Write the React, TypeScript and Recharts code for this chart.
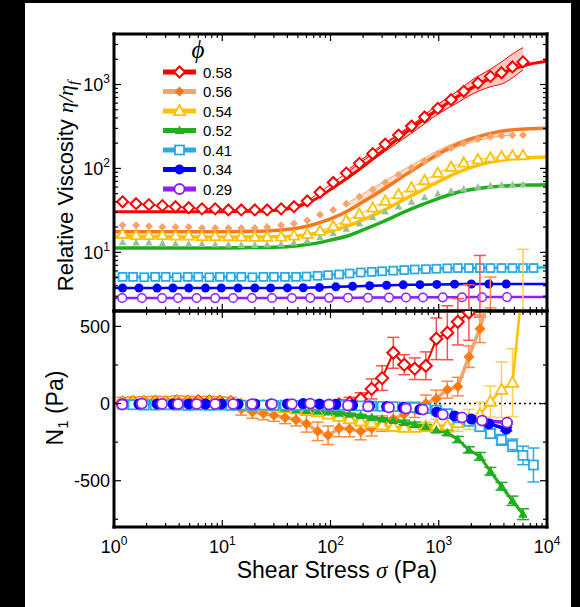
import React from "react";
import { ComposedChart, Line, Area, XAxis, YAxis, ErrorBar, ReferenceLine } from "recharts";

const FONT = "'Liberation Sans', Arial, Helvetica, sans-serif";
const SERIF = "'Liberation Serif', 'DejaVu Serif', serif";

// axis ticks
const xMajor = [1, 10, 100, 1000, 10000];
const xExp = ["0", "1", "2", "3", "4"];
const vMajor = [10, 100, 1000];
const vExp = ["1", "2", "3"];
const nMajor = [-500, 0, 500];
const nLabels = ["-500", "0", "500"];
const nTicks = [-750, -500, -250, 0, 250, 500];

const xTicks = [1, 10, 100, 1000]
  .flatMap((d) => [1, 2, 3, 4, 5, 6, 7, 8, 9].map((k) => k * d))
  .concat([10000]);
const vTicks = [1, 10, 100, 1000]
  .flatMap((d) => [1, 2, 3, 4, 5, 6, 7, 8, 9].map((k) => k * d))
  .filter((v) => v >= 2 && v <= 4000);

// legend
const phiLabels = ["0.58", "0.56", "0.54", "0.52", "0.41", "0.34", "0.29"];

// shear stress grids (Pa)
const stressA = [1.2, 1.6, 2.1, 2.8, 3.7, 4.9, 6.5, 8.6, 11.4, 15, 20, 26, 35, 46, 61, 80, 106, 140, 185, 245, 320, 425, 560, 740, 980, 1300, 1700, 2300, 3000, 3800, 4800, 6000];
const stressB = [1.2, 1.5, 1.9, 2.4, 3.0, 3.8, 4.8, 6.0, 7.6, 9.5, 12, 15, 19, 24, 30, 38, 48, 60, 76, 95, 120, 150, 190, 240, 300, 380, 480, 600, 760, 950, 1200, 1500, 1900, 2400, 3000, 3800, 4800, 6000, 7500];
const stressC = [1.2, 1.7, 2.5, 3.5, 4.9, 7.0, 9.8, 14, 20, 28, 40, 56, 79, 112, 160, 230, 330, 470, 670, 960, 1400, 2000, 2900, 4200];
const stressD = [1.19, 1.81, 2.78, 3.9, 5.8, 8.6, 12.6, 18.8, 28.8, 44, 65, 97, 145, 222, 347, 498, 715, 1090, 1640, 2510, 4270];
const stressFit = [1, 2, 5, 10, 20, 30, 50, 70, 100, 150, 200, 300, 500, 700, 1000, 1500, 2000, 3000, 5000, 7000, 10000];

// relative viscosity, markers
const visc058 = [40, 38, 37, 36, 35, 34, 33, 33, 32, 32, 32, 32, 33, 35, 41, 52, 68, 88, 115, 150, 195, 250, 320, 410, 520, 660, 830, 1040, 1250, 1380, 1620, 1860];
const visc056 = [21, 21, 20.5, 20, 20, 20, 19.5, 19.5, 19.5, 19.5, 19.5, 20, 21, 22, 24, 28, 32, 38, 46, 56, 68, 84, 102, 122, 148, 175, 200, 225, 238, 245, 248, 250];
const visc054 = [16.5, 16, 16, 16, 15.8, 15.8, 15.5, 15.5, 15.5, 15.3, 15.2, 15.2, 15.3, 15.8, 16.5, 18, 20.5, 24, 28.5, 34, 41, 49, 59, 72, 88, 104, 117, 128, 134, 139, 142, 143];
const visc052 = [13.2, 13, 13, 12.8, 12.7, 12.6, 12.5, 12.4, 12.3, 12.2, 12.2, 12.3, 12.5, 13, 13.8, 15, 16.8, 19, 22, 26, 30.5, 35, 40, 45, 50, 54, 57, 60, 62, 63, 64, 64];
const visc041 = [5.1, 5.1, 5.05, 5.1, 5.1, 5.05, 5.1, 5.1, 5.05, 5.1, 5.1, 5.1, 5.05, 5.1, 5.1, 5.1, 5.1, 5.15, 5.25, 5.35, 5.45, 5.6, 5.75, 5.85, 5.95, 6.05, 6.15, 6.25, 6.3, 6.38, 6.45, 6.5, 6.5, 6.5, 6.5, 6.5, 6.5, 6.5, 6.5];
const visc034 = [3.76, 3.76, 3.75, 3.76, 3.76, 3.75, 3.76, 3.76, 3.76, 3.76, 3.77, 3.78, 3.82, 3.88, 3.94, 4.0, 4.05, 4.1, 4.12, 4.15, 4.18, 4.2, 4.2, 4.2];
const visc029 = [2.86, 2.86, 2.85, 2.86, 2.86, 2.85, 2.86, 2.86, 2.86, 2.86, 2.87, 2.87, 2.88, 2.88, 2.89, 2.9, 2.9, 2.91, 2.92, 2.92, 2.93];

// relative viscosity, fits
const fit058 = [30.5, 30.5, 30.5, 30.5, 30.8, 31.5, 35, 42, 56, 80, 105, 160, 270, 370, 510, 720, 900, 1180, 1550, 1760, 1900];
const fit056 = [17.6, 17.6, 17.6, 17.6, 17.8, 18.2, 19.5, 21.5, 25, 32, 40, 55, 85, 112, 150, 195, 225, 262, 290, 298, 302];
const fit054 = [15.3, 15.3, 15.2, 15.2, 15.2, 15.3, 15.8, 16.6, 18, 21, 24.5, 31, 44, 55, 70, 90, 103, 119, 131, 135, 137];
const fit052 = [11.3, 11.3, 11.3, 11.3, 11.4, 11.5, 12, 12.7, 14, 16, 18.5, 23, 31, 37, 44, 52, 56, 60, 62.5, 63.5, 64];
const fit041 = [5.1, 5.1, 5.1, 5.1, 5.1, 5.1, 5.12, 5.2, 5.4, 5.6, 5.8, 6.0, 6.2, 6.3, 6.4, 6.48, 6.52, 6.55, 6.58, 6.6, 6.6];
const fit034 = [3.76, 3.76, 3.76, 3.76, 3.76, 3.77, 3.78, 3.8, 3.86, 3.93, 3.97, 4.03, 4.1, 4.12, 4.15, 4.18, 4.2, 4.2, 4.2, 4.2, 4.2];
const fit029 = [2.86, 2.86, 2.86, 2.86, 2.86, 2.86, 2.87, 2.87, 2.88, 2.88, 2.89, 2.9, 2.9, 2.91, 2.92, 2.92, 2.93, 2.93, 2.93, 2.93, 2.93];

// shaded spread
const band058Stress = [150, 250, 400, 600, 1000, 1500, 2000, 3000, 4000, 5000, 6000];
const band058Lo = [82, 128, 195, 280, 450, 610, 760, 940, 1040, 1250, 1500];
const band058Hi = [100, 162, 245, 350, 590, 840, 1120, 1520, 1950, 2400, 2750];
const band056Stress = [150, 300, 500, 1000, 2000, 3000, 4000, 5000];
const band056Lo = [33, 58, 88, 145, 205, 232, 245, 250];
const band056Hi = [40, 68, 100, 165, 235, 262, 275, 285];

// first normal stress difference N1 (Pa), on stressB unless noted
const n1_058 = [5, 8, 6, 10, 8, 12, 10, 14, 12, 10, 8, null, null, null, null, null, null, -20, -30, -15, -5, 5, 30, 95, 165, 329, 252, 226, 245, 420, 459, 530, 590, 760, null, null, null, null, null];
const err058 = [15, 15, 15, 15, 15, 15, 15, 15, 15, 15, 15, null, null, null, null, null, null, 30, 30, 30, 30, 35, 40, 65, 80, 100, 65, 70, 90, 135, 175, 150, 180, 200, null, null, null, null, null];
const n1_056 = [15, 18, 20, 22, 20, 25, 22, 20, 22, 18, 15, -35, -55, -65, -75, -90, -105, -130, -180, -205, -160, -165, -180, -160, -130, -100, -70, -40, 0, 32, 90, 110, 304, 485, 720, null, null, null, null];
const err056 = [25, 25, 25, 25, 25, 25, 25, 25, 25, 25, 25, 40, 40, 40, 40, 40, 40, 55, 60, 60, 55, 50, 55, 50, 50, 50, 50, 50, 55, 55, 55, 60, 70, 90, 100, null, null, null, null];
const n1_054 = [5, 8, 5, 8, 6, 8, 6, 5, 5, 3, 0, -5, -10, -15, -20, -28, -35, -45, -55, -70, -85, -100, -115, -125, -140, -150, -155, -155, -150, -142, -142, -125, -103, -71, 13, 90, 136, 800, null];
const err054 = [15, 15, 15, 15, 15, 15, 15, 15, 15, 15, 15, 20, 20, 20, 20, 20, 20, 20, 20, 20, 20, 30, 30, 30, 30, 30, 30, 30, 30, 40, 45, 55, 65, 80, 100, 180, 220, 200, null];
const n1_052 = [0, 2, 0, 2, 0, 0, -2, -3, -5, -6, -8, -10, -10, -15, -22, -30, -40, -45, -50, -55, -62, -70, -78, -90, -100, -110, -122, -135, -150, -172, -190, -233, -300, -342, -439, -536, -630, -717, null];
const err052 = [8, 8, 8, 8, 8, 8, 8, 8, 8, 8, 8, 8, 8, 8, 8, 8, 8, 8, 8, 8, 8, 8, 8, 8, 8, 8, 15, 15, 15, 15, 15, 20, 20, 25, 25, 25, 30, 35, null];
const n1_041 = [-5, -8, -10, -10, -8, -10, -12, -10, -12, -10, -12, -10, -12, -10, -12, -10, -12, -10, -10, -12, -12, -14, -15, -16, -18, -20, -22, -25, -32, -42, -65, -92, -115, -150, -195, -235, -270, -336, -398];
const err041 = [8, 8, 8, 8, 8, 8, 8, 8, 8, 8, 8, 8, 8, 8, 8, 8, 8, 8, 8, 8, 8, 8, 8, 8, 8, 8, 8, 8, 8, 12, 15, 20, 20, 25, 30, 35, 40, 60, 110];
const n1_034 = [-2, -3, -2, -3, -2, -3, -2, -3, -2, -3, -2, 0, -2, -5, -10, -15, -20, -26, -38, -55, -80, -100, -130, -165]; // stressC
const err034 = [6, 6, 6, 6, 6, 6, 6, 6, 6, 6, 6, 6, 6, 6, 6, 6, 6, 6, 8, 8, 8, 10, 10, 12];
const n1_029 = [-6, 0, -2, -3, -3, -3, -3, -3, -3, -3, 0, -6, -12, -19, -25, -32, -39, -71, -90, -110, -123]; // stressD
const err029 = [5, 5, 5, 5, 5, 5, 5, 5, 5, 5, 5, 5, 5, 5, 5, 6, 6, 8, 8, 10, 10];

const RED = "#ff0000";
const ORANGE = "#f57a1f";
const ORANGE_LT = "#f6a46e";
const YELLOW = "#ffc000";
const GREEN = "#1fae1f";
const GREEN_LT = "#95c595";
const CYAN = "#29abe2";
const BLUE = "#0000ff";
const PURPLE = "#8f1fff";

type Shape = "diamond" | "triangle" | "square" | "circle";

const rows = (xs: number[], ys: (number | null)[], es?: (number | null)[]) =>
  xs
    .map((s, i) => ({ s, v: ys[i], e: es ? es[i] : 0 }))
    .filter((r) => r.v != null);

const bandRows = (xs: number[], lo: number[], hi: number[]) =>
  xs.map((s, i) => ({ s, band: [lo[i], hi[i]] }));

function Mark({ cx, cy, shape, r, fill, stroke, sw }: any) {
  if (shape === "diamond") {
    return (
      <polygon
        points={`${cx},${cy - r} ${cx + r},${cy} ${cx},${cy + r} ${cx - r},${cy}`}
        fill={fill}
        stroke={stroke}
        strokeWidth={sw}
      />
    );
  }
  if (shape === "triangle") {
    return (
      <polygon
        points={`${cx},${cy - r} ${cx + r * 0.95},${cy + r * 0.7} ${cx - r * 0.95},${cy + r * 0.7}`}
        fill={fill}
        stroke={stroke}
        strokeWidth={sw}
      />
    );
  }
  if (shape === "square") {
    return <rect x={cx - r} y={cy - r} width={2 * r} height={2 * r} fill={fill} stroke={stroke} strokeWidth={sw} />;
  }
  return <circle cx={cx} cy={cy} r={r} fill={fill} stroke={stroke} strokeWidth={sw} />;
}

const dot = (shape: Shape, r: number, fill: string, stroke: string, sw: number) => (p: any) => {
  if (p.cx == null || p.cy == null || isNaN(p.cy)) return <g key={p.index} />;
  return <Mark key={p.index} cx={p.cx} cy={p.cy} shape={shape} r={r} fill={fill} stroke={stroke} sw={sw} />;
};

const frame = { stroke: "#000", strokeWidth: 3, strokeLinecap: "square" as const };

function makeXTick(side: "top" | "bottom", labels: boolean) {
  return (p: any) => {
    const v = p.payload.value;
    const i = xMajor.indexOf(v);
    const len = i >= 0 ? 7 : 4;
    const d = side === "bottom" ? -len : len;
    return (
      <g key={`x${side}${v}`}>
        <line x1={p.x} x2={p.x} y1={p.y} y2={p.y + d} stroke="#000" strokeWidth={1.2} />
        {labels && i >= 0 && (
          <text x={p.x} y={p.y + 26} textAnchor="middle" fontSize={18} fontFamily={FONT} fill="#000">
            10<tspan dy={-8} fontSize={12}>{xExp[i]}</tspan>
          </text>
        )}
      </g>
    );
  };
}

function makeYTick(side: "left" | "right", majors: number[], label: ((i: number) => React.ReactNode) | null) {
  return (p: any) => {
    const v = p.payload.value;
    const i = majors.indexOf(v);
    const len = i >= 0 ? 7 : 4;
    const d = side === "left" ? len : -len;
    return (
      <g key={`y${side}${v}`}>
        <line x1={p.x} x2={p.x + d} y1={p.y} y2={p.y} stroke="#000" strokeWidth={1.2} />
        {label && i >= 0 && (
          <text x={p.x - 4} y={p.y + 6.5} textAnchor="end" fontSize={18} fontFamily={FONT} fill="#000">
            {label(i)}
          </text>
        )}
      </g>
    );
  };
}

const logLabel = (i: number) => (
  <>
    10<tspan dy={-8} fontSize={12}>{vExp[i]}</tspan>
  </>
);

const legendStyle = [
  { line: RED, shape: "diamond", r: 5.5, fill: "#fff", stroke: RED, sw: 2 },
  { line: ORANGE_LT, shape: "diamond", r: 5, fill: ORANGE, stroke: "none", sw: 0 },
  { line: YELLOW, shape: "triangle", r: 6, fill: "#fff", stroke: YELLOW, sw: 1.8 },
  { line: GREEN, shape: "triangle", r: 5, fill: GREEN, stroke: "none", sw: 0 },
  { line: CYAN, shape: "square", r: 4.5, fill: "#fff", stroke: CYAN, sw: 1.8 },
  { line: BLUE, shape: "circle", r: 5, fill: BLUE, stroke: "none", sw: 0 },
  { line: PURPLE, shape: "circle", r: 5, fill: "#fff", stroke: PURPLE, sw: 1.8 },
];

const noAnim = { isAnimationActive: false, activeDot: false, legendType: "none" as const };

export default function App() {
  return (
    <div style={{ position: "absolute", left: 0, top: 0, width: 580, height: 607, background: "#000", overflow: "hidden" }}>
      <div style={{ position: "absolute", left: 25, top: 3, width: 546, height: 604, background: "#fff" }} />

      {/* viscosity panel */}
      <div style={{ position: "absolute", left: 0, top: 0 }}>
        <ComposedChart width={580} height={330} margin={{ top: 24, right: 23, bottom: 9, left: 104 }}>
          <XAxis dataKey="s" type="number" scale="log" domain={[1, 10000]} allowDataOverflow ticks={xTicks} interval={0} height={10} tickSize={0} tickMargin={0} tickLine={false} axisLine={frame} tick={makeXTick("bottom", false)} />
          <XAxis xAxisId="t" orientation="top" dataKey="s" type="number" scale="log" domain={[1, 10000]} allowDataOverflow ticks={xTicks} interval={0} height={10} tickSize={0} tickMargin={0} tickLine={false} axisLine={frame} tick={makeXTick("top", false)} />
          <YAxis type="number" scale="log" domain={[2, 4000]} allowDataOverflow ticks={vTicks} interval={0} width={10} tickSize={0} tickMargin={0} tickLine={false} axisLine={frame} tick={makeYTick("left", vMajor, logLabel)} />
          <YAxis yAxisId="r" orientation="right" type="number" scale="log" domain={[2, 4000]} allowDataOverflow ticks={vTicks} interval={0} width={10} tickSize={0} tickMargin={0} tickLine={false} axisLine={frame} tick={makeYTick("right", vMajor, null)} />

          <Area data={bandRows(band058Stress, band058Lo, band058Hi)} dataKey="band" type="monotone" fill="#f7b9a8" fillOpacity={0.75} stroke={RED} strokeWidth={1} isAnimationActive={false} activeDot={false} />
          <Area data={bandRows(band056Stress, band056Lo, band056Hi)} dataKey="band" type="monotone" fill="#fbd6bb" fillOpacity={0.8} stroke={ORANGE_LT} strokeWidth={1} isAnimationActive={false} activeDot={false} />

          <Line data={rows(stressFit, fit029)} dataKey="v" type="monotone" stroke={PURPLE} strokeWidth={2.5} dot={false} {...noAnim} />
          <Line data={rows(stressFit, fit034)} dataKey="v" type="monotone" stroke={BLUE} strokeWidth={2.5} dot={false} {...noAnim} />
          <Line data={rows(stressFit, fit041)} dataKey="v" type="monotone" stroke={CYAN} strokeWidth={2.5} dot={false} {...noAnim} />
          <Line data={rows(stressFit, fit052)} dataKey="v" type="monotone" stroke={GREEN} strokeWidth={3.5} dot={false} {...noAnim} />
          <Line data={rows(stressFit, fit054)} dataKey="v" type="monotone" stroke={YELLOW} strokeWidth={3.5} dot={false} {...noAnim} />
          <Line data={rows(stressFit, fit056)} dataKey="v" type="monotone" stroke={ORANGE} strokeWidth={3.5} dot={false} {...noAnim} />
          <Line data={rows(stressFit, fit058)} dataKey="v" type="monotone" stroke={RED} strokeWidth={3} dot={false} {...noAnim} />

          <Line data={rows(stressD, visc029)} dataKey="v" stroke={PURPLE} strokeWidth={1.5} dot={dot("circle", 4.3, "#fff", PURPLE, 1.5)} {...noAnim} />
          <Line data={rows(stressC, visc034)} dataKey="v" stroke={BLUE} strokeWidth={1.5} dot={dot("circle", 4.5, BLUE, "none", 0)} {...noAnim} />
          <Line data={rows(stressB, visc041)} dataKey="v" stroke={CYAN} strokeWidth={1.5} dot={dot("square", 4, "#fff", CYAN, 1.8)} {...noAnim} />
          <Line data={rows(stressA, visc052)} dataKey="v" stroke="none" dot={dot("triangle", 4, GREEN_LT, "none", 0)} {...noAnim} />
          <Line data={rows(stressA, visc054)} dataKey="v" stroke={YELLOW} strokeWidth={1} dot={dot("triangle", 5.5, "#fff", YELLOW, 1.8)} {...noAnim} />
          <Line data={rows(stressA, visc056)} dataKey="v" stroke="none" dot={dot("diamond", 4, ORANGE_LT, "none", 0)} {...noAnim} />
          <Line data={rows(stressA, visc058)} dataKey="v" stroke={RED} strokeWidth={1} dot={dot("diamond", 5.5, "#fff", RED, 2)} {...noAnim} />
        </ComposedChart>
      </div>

      {/* N1 panel */}
      <div style={{ position: "absolute", left: 0, top: 0 }}>
        <ComposedChart width={580} height={607} margin={{ top: 301, right: 23, bottom: 70, left: 104 }}>
          <XAxis dataKey="s" type="number" scale="log" domain={[1, 10000]} allowDataOverflow ticks={xTicks} interval={0} height={10} tickSize={0} tickMargin={0} tickLine={false} axisLine={frame} tick={makeXTick("bottom", true)} />
          <XAxis xAxisId="t" orientation="top" dataKey="s" type="number" scale="log" domain={[1, 10000]} allowDataOverflow ticks={xTicks} interval={0} height={10} tickSize={0} tickMargin={0} tickLine={false} axisLine={frame} tick={makeXTick("top", false)} />
          <YAxis type="number" domain={[-800, 600]} allowDataOverflow ticks={nTicks} interval={0} width={10} tickSize={0} tickMargin={0} tickLine={false} axisLine={frame} tick={makeYTick("left", nMajor, (i) => nLabels[i])} />
          <YAxis yAxisId="r" orientation="right" type="number" domain={[-800, 600]} allowDataOverflow ticks={nTicks} interval={0} width={10} tickSize={0} tickMargin={0} tickLine={false} axisLine={frame} tick={makeYTick("right", nMajor, null)} />

          <ReferenceLine y={0} stroke="#000" strokeDasharray="2 3" strokeWidth={1.5} />

          <Line data={rows(stressB, n1_058, err058)} dataKey="v" stroke={RED} strokeWidth={2} dot={dot("diamond", 6, "#fff", RED, 2)} {...noAnim}>
            <ErrorBar dataKey="e" width={6} stroke="#ff5050" strokeWidth={1.5} direction="y" isAnimationActive={false} />
          </Line>
          <Line data={rows(stressB, n1_056, err056)} dataKey="v" stroke={ORANGE_LT} strokeWidth={3.5} dot={dot("diamond", 5.5, "#ff7a10", "none", 0)} {...noAnim}>
            <ErrorBar dataKey="e" width={6} stroke="#ff8a3d" strokeWidth={1.5} direction="y" isAnimationActive={false} />
          </Line>
          <Line data={rows(stressB, n1_054, err054)} dataKey="v" stroke={YELLOW} strokeWidth={2.5} dot={dot("triangle", 6, "#fff", YELLOW, 1.8)} {...noAnim}>
            <ErrorBar dataKey="e" width={6} stroke="#ffcc55" strokeWidth={1.5} direction="y" isAnimationActive={false} />
          </Line>
          <Line data={rows(stressB, n1_052, err052)} dataKey="v" stroke={GREEN} strokeWidth={3} dot={dot("triangle", 5, GREEN, "none", 0)} {...noAnim}>
            <ErrorBar dataKey="e" width={6} stroke={GREEN} strokeWidth={1.5} direction="y" isAnimationActive={false} />
          </Line>
          <Line data={rows(stressB, n1_041, err041)} dataKey="v" stroke={CYAN} strokeWidth={2.5} dot={dot("square", 4.5, "#fff", CYAN, 1.8)} {...noAnim}>
            <ErrorBar dataKey="e" width={6} stroke={CYAN} strokeWidth={1.5} direction="y" isAnimationActive={false} />
          </Line>
          <Line data={rows(stressC, n1_034, err034)} dataKey="v" stroke={BLUE} strokeWidth={3.5} dot={dot("circle", 5.5, BLUE, "none", 0)} {...noAnim}>
            <ErrorBar dataKey="e" width={6} stroke={BLUE} strokeWidth={1.5} direction="y" isAnimationActive={false} />
          </Line>
          <Line data={rows(stressD, n1_029, err029)} dataKey="v" stroke={PURPLE} strokeWidth={3.5} dot={dot("circle", 5, "#fff", PURPLE, 1.8)} {...noAnim}>
            <ErrorBar dataKey="e" width={6} stroke={PURPLE} strokeWidth={1.5} direction="y" isAnimationActive={false} />
          </Line>
        </ComposedChart>
      </div>

      {/* titles and legend */}
      <svg width={580} height={607} style={{ position: "absolute", left: 0, top: 0, pointerEvents: "none" }}>
        <text transform="rotate(-90 73 186)" x={73} y={186} textAnchor="middle" fontSize={22} fontFamily={FONT} fill="#000">
          Relative Viscosity{" "}
          <tspan fontFamily={SERIF} fontStyle="italic">η/η</tspan>
          <tspan fontFamily={SERIF} fontStyle="italic" fontSize={15} dy={5}>f</tspan>
        </text>
        <text transform="rotate(-90 63 408)" x={63} y={408} textAnchor="middle" fontSize={23} fontFamily={FONT} fill="#000">
          N<tspan fontSize={15} dy={5}>1</tspan>
          <tspan dy={-5}> (Pa)</tspan>
        </text>
        <text x={337} y={578} textAnchor="middle" fontSize={23} fontFamily={FONT} fill="#000">
          Shear Stress <tspan fontFamily={SERIF} fontStyle="italic">σ</tspan> (Pa)
        </text>

        <text x={198} y={58} textAnchor="middle" fontSize={25} fontFamily={SERIF} fontStyle="italic" fill="#000">ϕ</text>
        {phiLabels.map((lab, i) => {
          const st = legendStyle[i];
          const y = 72 + i * 19.5;
          return (
            <g key={lab}>
              <line x1={163} x2={196} y1={y} y2={y} stroke={st.line} strokeWidth={5} />
              <Mark cx={179.5} cy={y} shape={st.shape} r={st.r} fill={st.fill} stroke={st.stroke} sw={st.sw} />
              <text x={203} y={y + 5.5} fontSize={15} fontFamily={FONT} fill="#000">{lab}</text>
            </g>
          );
        })}
      </svg>
    </div>
  );
}
